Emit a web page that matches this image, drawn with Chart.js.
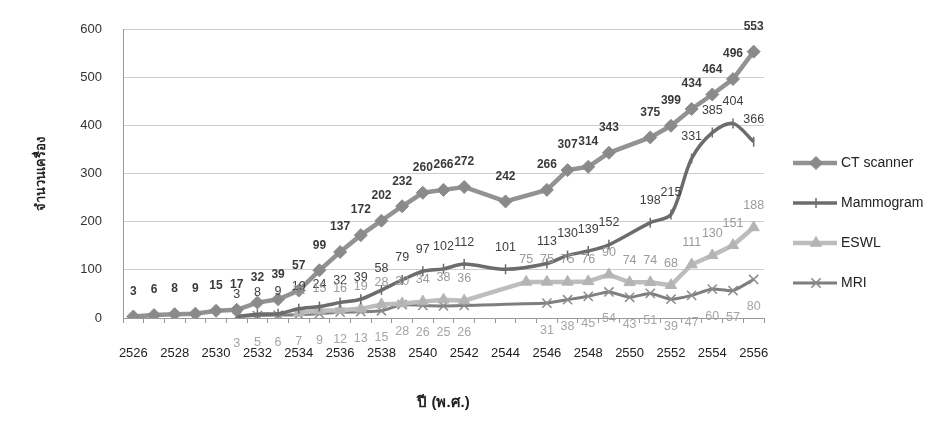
<!DOCTYPE html>
<html>
<head>
<meta charset="utf-8">
<script src="https://cdn.jsdelivr.net/npm/chart.js@4.4.0/dist/chart.umd.min.js"></script>
<style>
  html, body { margin: 0; padding: 0; background: #fff; }
  #wrap { width: 938px; height: 432px; }
</style>
</head>
<body>
<div id="wrap"><canvas id="equipChart" width="938" height="432"></canvas></div>
<script>
// ปี พ.ศ. 2526 - 2556
const years = ['2526', '2527', '2528', '2529', '2530', '2531', '2532', '2533', '2534', '2535',
  '2536', '2537', '2538', '2539', '2540', '2541', '2542', '2543', '2544', '2545',
  '2546', '2547', '2548', '2549', '2550', '2551', '2552', '2553', '2554', '2555', '2556'];

const ctScanner = [3, 6, 8, 9, 15, 17, 32, 39, 57, 99,
  137, 172, 202, 232, 260, 266, 272, null, 242, null,
  266, 307, 314, 343, null, 375, 399, 434, 464, 496, 553];

const mammogram = [null, null, null, null, null, 3, 8, 9, 19, 24,
  32, 39, 58, 79, 97, 102, 112, null, 101, null,
  113, 130, 139, 152, null, 198, 215, 331, 385, 404, 366];

const eswl = [null, null, null, null, null, null, null, null, 11, 15,
  16, 19, 28, 30, 34, 38, 36, null, null, 75,
  75, 75, 76, 90, 74, 74, 68, 111, 130, 151, 188];

const mri = [null, null, null, null, null, 3, 5, 6, 7, 9,
  12, 13, 15, 28, 26, 25, 26, null, null, null,
  31, 38, 45, 54, 43, 51, 39, 47, 60, 57, 80];

const yTicks = [0, 100, 200, 300, 400, 500, 600];

const fontFamily = '"Liberation Sans", Arial, "Noto Sans", sans-serif';

// ตัวเลขกำกับจุดข้อมูล
const valueLabels = {
  id: 'valueLabels',
  afterDatasetsDraw(chart) {
    const ctx = chart.ctx;
    chart.data.datasets.forEach((ds, i) => {
      const meta = chart.getDatasetMeta(i);
      ctx.save();
      ctx.font = ds.labelFont;
      ctx.fillStyle = ds.labelColor;
      ctx.textAlign = 'center';
      ctx.textBaseline = 'middle';
      meta.data.forEach((pt, j) => {
        const v = ds.data[j];
        if (v === null || v === undefined) return;
        ctx.fillText(String(v), pt.x, pt.y + ds.labelOffset);
      });
      ctx.restore();
    });
  }
};

// คำอธิบายด้านขวา (เส้น + สัญลักษณ์)
const sideLegend = {
  id: 'sideLegend',
  afterDraw(chart) {
    const ctx = chart.ctx;
    const x0 = chart.chartArea.right + 29;
    chart.data.datasets.forEach((ds, i) => {
      const y = 163 + i * 40;
      ctx.save();
      ctx.strokeStyle = ds.borderColor;
      ctx.lineWidth = ds.borderWidth;
      ctx.beginPath();
      ctx.moveTo(x0, y);
      ctx.lineTo(x0 + 44, y);
      ctx.stroke();
      ctx.fillStyle = ds.pointBackgroundColor;
      ctx.strokeStyle = ds.pointBorderColor;
      ctx.lineWidth = ds.pointBorderWidth;
      Chart.helpers.drawPoint(ctx, {
        pointStyle: ds.pointStyle,
        radius: ds.pointRadius,
        rotation: ds.pointRotation || 0,
        borderWidth: ds.pointBorderWidth
      }, x0 + 23, y);
      ctx.fillStyle = '#222';
      ctx.font = '14px ' + fontFamily;
      ctx.textAlign = 'left';
      ctx.textBaseline = 'middle';
      ctx.fillText(ds.label, x0 + 48, y);
      ctx.restore();
    });
  }
};

const ctx = document.getElementById('equipChart').getContext('2d');
new Chart(ctx, {
  type: 'line',
  data: {
    labels: years,
    datasets: [
      {
        label: 'CT scanner',
        data: ctScanner,
        borderColor: '#929292',
        borderWidth: 4.5,
        pointStyle: 'rectRot',
        pointRadius: 6.5,
        pointBackgroundColor: '#8a8a8a',
        pointBorderColor: '#8a8a8a',
        pointBorderWidth: 1,
        tension: 0,
        spanGaps: true,
        labelFont: 'bold 12px ' + fontFamily,
        labelColor: '#3a3a3a',
        labelOffset: -25
      },
      {
        label: 'Mammogram',
        data: mammogram,
        borderColor: '#6c6c6c',
        borderWidth: 3.5,
        pointStyle: 'line',
        pointRotation: 90,
        pointRadius: 5,
        pointBackgroundColor: '#6c6c6c',
        pointBorderColor: '#6c6c6c',
        pointBorderWidth: 1.5,
        tension: 0.3,
        spanGaps: true,
        labelFont: '12.5px ' + fontFamily,
        labelColor: '#404040',
        labelOffset: -22
      },
      {
        label: 'ESWL',
        data: eswl,
        borderColor: '#bdbdbd',
        borderWidth: 4.5,
        pointStyle: 'triangle',
        pointRadius: 6.5,
        pointBackgroundColor: '#b4b4b4',
        pointBorderColor: '#b4b4b4',
        pointBorderWidth: 1,
        tension: 0,
        spanGaps: true,
        labelFont: '12.5px ' + fontFamily,
        labelColor: '#9a9a9a',
        labelOffset: -22
      },
      {
        label: 'MRI',
        data: mri,
        borderColor: '#7e7e7e',
        borderWidth: 3,
        pointStyle: 'crossRot',
        pointRadius: 6.5,
        pointBackgroundColor: '#8c8c8c',
        pointBorderColor: '#8c8c8c',
        pointBorderWidth: 1.5,
        tension: 0.2,
        spanGaps: true,
        labelFont: '12.5px ' + fontFamily,
        labelColor: '#a5a5a5',
        labelOffset: 27
      }
    ]
  },
  options: {
    responsive: false,
    animation: false,
    devicePixelRatio: 1,
    layout: { padding: { top: 29, right: 174, bottom: 0, left: 0 } },
    plugins: {
      legend: { display: false },
      tooltip: { enabled: false }
    },
    scales: {
      x: {
        offset: true,
        grid: { drawOnChartArea: false, tickLength: 5, color: '#999', offset: true },
        border: { color: '#999' },
        ticks: {
          autoSkip: false,
          maxRotation: 0,
          padding: 23,
          color: '#222',
          font: { family: fontFamily, size: 13 },
          callback: (v, i) => (i % 2 === 0 ? years[i] : '')
        },
        title: {
          display: true,
          text: 'ปี (พ.ศ.)',
          color: '#222',
          font: { family: fontFamily, size: 15, weight: 'bold' },
          padding: { top: 0, bottom: 20 }
        },
        afterFit: (scale) => { scale.height = 432 - 318; }
      },
      y: {
        min: 0,
        max: 600,
        afterBuildTicks: (scale) => { scale.ticks = yTicks.map(v => ({ value: v })); },
        ticks: {
          padding: 21,
          color: '#333',
          font: { family: fontFamily, size: 13 }
        },
        grid: { color: '#cdcdcd', drawTicks: false },
        border: { color: '#999' },
        title: {
          display: true,
          text: 'จำนวนเครื่อง',
          color: '#222',
          font: { family: fontFamily, size: 13, weight: 'bold' },
          padding: { top: 34, bottom: 0 }
        },
        afterFit: (scale) => { scale.width = 123; }
      }
    }
  },
  plugins: [valueLabels, sideLegend]
});
</script>
</body>
</html>
